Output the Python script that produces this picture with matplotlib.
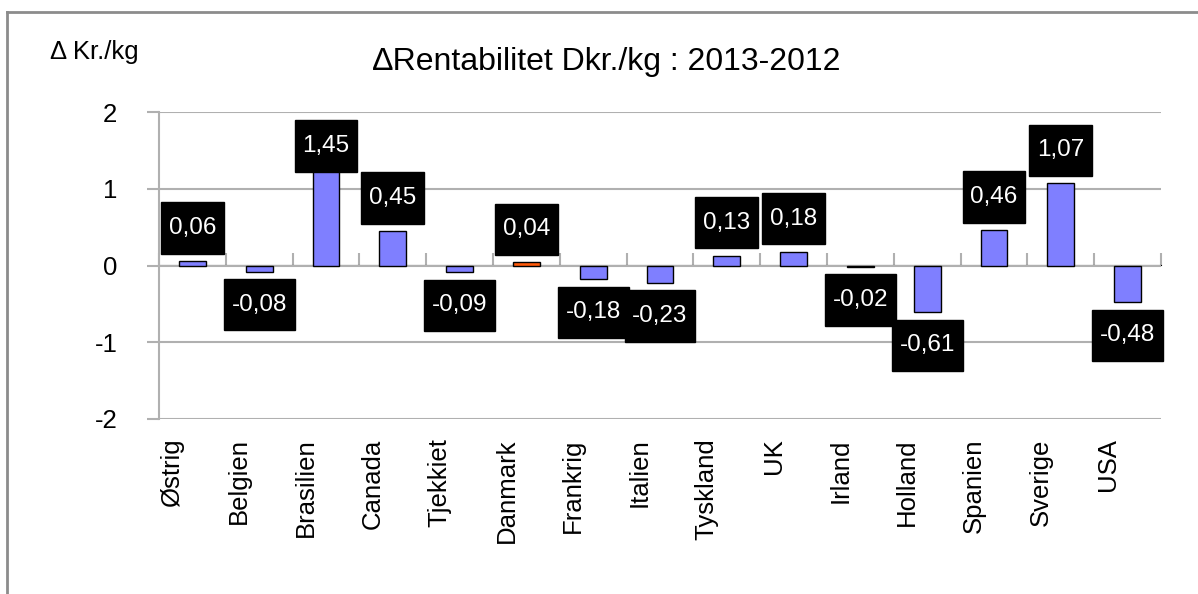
import matplotlib
matplotlib.use("Agg")
import matplotlib.pyplot as plt
import matplotlib.transforms as mtransforms
from matplotlib.lines import Line2D
import numpy as np

plt.rcParams['font.family'] = ['Liberation Sans', 'DejaVu Sans']

# data
countries = ["Østrig", "Belgien", "Brasilien", "Canada", "Tjekkiet", "Danmark",
             "Frankrig", "Italien", "Tyskland", "UK", "Irland", "Holland",
             "Spanien", "Sverige", "USA"]
values = [0.06, -0.08, 1.45, 0.45, -0.09, 0.04, -0.18, -0.23, 0.13, 0.18,
          -0.02, -0.61, 0.46, 1.07, -0.48]
highlight = "Danmark"

blue = "#7F7FFF"
orange = "#FF5A0A"
grid_col = "#B0B0B0"

fig = plt.figure(figsize=(11.98, 5.94), dpi=100)
ax = fig.add_axes([159 / 1198, 1 - 419 / 594, (1161 - 159) / 1198, (419 - 112) / 594])

x = np.arange(len(countries))
colors = [orange if c == highlight else blue for c in countries]
ax.bar(x, values, width=0.4, color=colors, edgecolor="black", linewidth=1, zorder=3)

ax.set_xlim(-0.5, len(countries) - 0.5)
ax.set_ylim(-2, 2)
ax.set_yticks([-2, -1, 0, 1, 2])
ax.set_yticklabels(["-2", "-1", "0", "1", "2"], fontsize=18.5)
ax.yaxis.grid(True, color=grid_col, linewidth=1.5, zorder=0)
ax.tick_params(axis="y", length=9, width=1.5, color=grid_col, pad=21)

ax.set_xticks(x)
ax.set_xticklabels(countries, rotation=90, fontsize=18.5)
ax.tick_params(axis="x", length=0, pad=14)
shift = mtransforms.ScaledTranslation(-20 / 100, 0, fig.dpi_scale_trans)
for lbl in ax.get_xticklabels():
    lbl.set_transform(lbl.get_transform() + shift)

for s in ["top", "right", "bottom"]:
    ax.spines[s].set_visible(False)
ax.spines["left"].set_color(grid_col)
ax.spines["left"].set_linewidth(1.5)

# zero axis with category-boundary ticks
sec = ax.secondary_xaxis(0.5)
sec.set_xticks(np.arange(len(countries) + 1) - 0.5)
sec.set_xticklabels([])
sec.tick_params(axis="x", direction="out", length=9, width=1.5, color=grid_col)
sec.spines["bottom"].set_color(grid_col)
sec.spines["bottom"].set_linewidth(1.5)

# value labels (kept inside the plot area like the original)
for xi, v in zip(x, values):
    lab = f"{v:.2f}".replace(".", ",")
    ypos = v + (0.43 if v >= 0 else -0.43)
    ypos = min(ypos, 1.56)
    ax.text(xi, ypos, lab, ha="center", va="center", fontsize=17.5, color="white",
            zorder=5, bbox=dict(boxstyle="square,pad=0.32", fc="black", ec="black",
                                mutation_aspect=1.9))

fig.text(607 / 1198, 1 - 62 / 594, "\u2206Rentabilitet Dkr./kg : 2013-2012",
         ha="center", va="center", fontsize=23)
fig.text(50 / 1198, 1 - 52 / 594, "\u0394 Kr./kg", ha="left", va="center", fontsize=18.5)

# outer chart frame
fig.add_artist(Line2D([7 / 1198, 7 / 1198], [0, 1 - 12 / 594], color="#8C8C8C", lw=2,
                      transform=fig.transFigure))
fig.add_artist(Line2D([7 / 1198, 1], [1 - 12 / 594, 1 - 12 / 594], color="#8C8C8C", lw=2,
                      transform=fig.transFigure))

fig.savefig("out.png", dpi=100)
